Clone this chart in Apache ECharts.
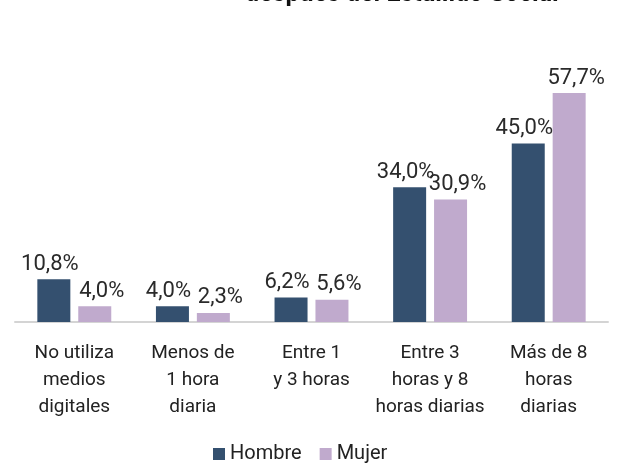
<!DOCTYPE html>
<html>
<head>
<meta charset="utf-8">
<script src="https://cdn.jsdelivr.net/npm/echarts@6/dist/echarts.min.js"></script>
<style>html,body{margin:0;padding:0;background:#fff}#c{width:622px;height:463px}</style>
</head>
<body>
<div id="c"></div>
<script>
var titleText = "después del Estallido Social";
var categories = ["No utiliza\nmedios\ndigitales", "Menos de\n1 hora\ndiaria", "Entre 1\ny 3 horas", "Entre 3\nhoras y 8\nhoras diarias", "Más de 8\nhoras\ndiarias"];
var seriesNames = ["Hombre", "Mujer"];
var hombre = [10.8, 4.0, 6.2, 34.0, 45.0];
var mujer = [4.0, 2.3, 5.6, 30.9, 57.7];

var chart = echarts.init(document.getElementById('c'), null, {renderer: 'canvas'});
var fmt = function (p) { return p.value.toFixed(1).replace('.', ',') + '%'; };
var font = 'Roboto, "Liberation Sans", sans-serif';
chart.setOption({
  animation: false,
  textStyle: {fontFamily: font},
  title: {
    text: titleText, left: 240, top: -23,
    textStyle: {fontSize: 25, fontWeight: 'bold', color: '#111', fontFamily: font}
  },
  legend: {
    data: seriesNames, bottom: -6, left: 208,
    itemWidth: 12, itemHeight: 12, itemGap: 18,
    icon: 'rect',
    textStyle: {fontSize: 20, color: '#222', fontFamily: font, padding: [0, 0, 0, 0]}
  },
  grid: {left: 15, right: 14, top: 84, bottom: 141, containLabel: false},
  xAxis: {
    type: 'category', data: categories,
    axisLine: {show: true, lineStyle: {color: '#d4d4d4', width: 2}},
    axisTick: {show: false},
    axisLabel: {fontSize: 19, color: '#222', lineHeight: 27, margin: 18, interval: 0, fontFamily: font}
  },
  yAxis: {type: 'value', min: 0, max: 60, show: false, splitLine: {show: false}},
  series: [
    {
      name: seriesNames[0], type: 'bar', data: hombre, barWidth: 33, barGap: '24%',
      itemStyle: {color: '#34506f'},
      label: {show: true, position: 'top', distance: 4, formatter: fmt, fontSize: 22, color: '#2a2a2a', offset: [-4, 0], fontFamily: font}
    },
    {
      name: seriesNames[1], type: 'bar', data: mujer, barWidth: 33,
      itemStyle: {color: '#c0aacd'},
      label: {show: true, position: 'top', distance: 4, formatter: fmt, fontSize: 22, color: '#2a2a2a', offset: [7, 0], fontFamily: font}
    }
  ]
});
</script>
</body>
</html>
